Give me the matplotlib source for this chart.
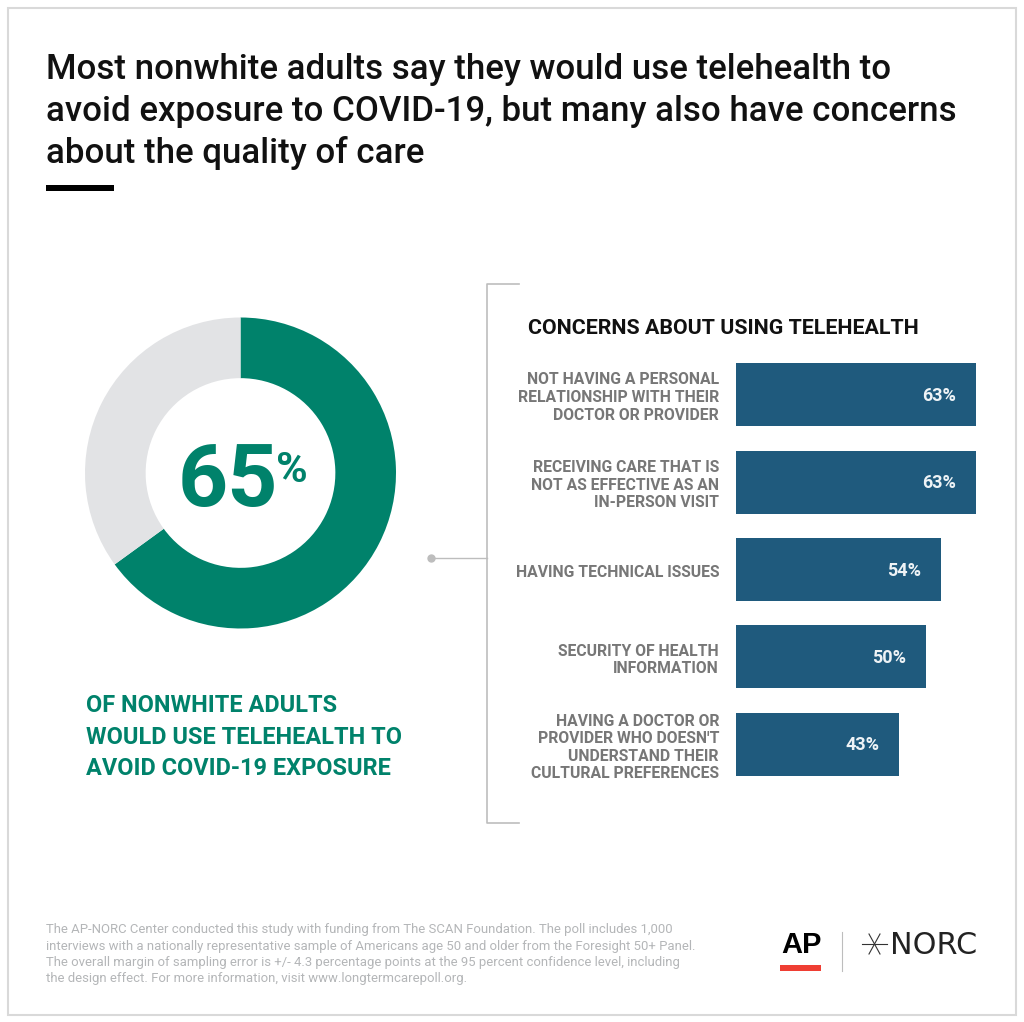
import matplotlib
matplotlib.use("Agg")
import matplotlib.pyplot as plt
from matplotlib.patches import Rectangle

W, H = 1024, 1022
FONT = ["Roboto", "DejaVu Sans"]
plt.rcParams['font.family'] = FONT

title_lines = ["Most nonwhite adults say they would use telehealth to",
               "avoid exposure to COVID-19, but many also have concerns",
               "about the quality of care"]
donut_values = [65, 35]
donut_colors = ["#00826B", "#E2E3E5"]
donut_caption = ["OF NONWHITE ADULTS", "WOULD USE TELEHEALTH TO", "AVOID COVID-19 EXPOSURE"]
bar_title = "CONCERNS ABOUT USING TELEHEALTH"
bar_labels = ["NOT HAVING A PERSONAL\nRELATIONSHIP WITH THEIR\nDOCTOR OR PROVIDER",
              "RECEIVING CARE THAT IS\nNOT AS EFFECTIVE AS AN\nIN-PERSON VISIT",
              "HAVING TECHNICAL ISSUES",
              "SECURITY OF HEALTH\nINFORMATION",
              "HAVING A DOCTOR OR\nPROVIDER WHO DOESN'T\nUNDERSTAND THEIR\nCULTURAL PREFERENCES"]
bar_values = [63, 63, 54, 50, 43]
footnote = ["The AP-NORC Center conducted this study with funding from The SCAN Foundation. The poll includes 1,000",
            "interviews with a nationally representative sample of Americans age 50 and older from the Foresight 50+ Panel.",
            "The overall margin of sampling error is +/- 4.3 percentage points at the 95 percent confidence level, including",
            "the design effect. For more information, visit www.longtermcarepoll.org."]

fig = plt.figure(figsize=(W/100, H/100), dpi=100, facecolor="white")
bg = fig.add_axes([0, 0, 1, 1])
bg.set_xlim(0, W); bg.set_ylim(H, 0); bg.axis("off")

# frame
bg.add_patch(Rectangle((8, 8), 1008, 1007, fill=False, ec="#D9D9D9", lw=1.5))

# title
for i, t in enumerate(title_lines):
    bg.text(46, 70 + i*41.5, t, fontsize=25.12, color="#111111", va="center", ha="left", fontweight="medium")
bg.add_patch(Rectangle((46, 185), 68, 6, color="black", lw=0))

# donut
ax = fig.add_axes([85/W, 1-628.5/H, 311/W, 311/H])
ax.pie(donut_values, colors=donut_colors, startangle=90, counterclock=False,
       radius=1.0, wedgeprops=dict(width=0.39))
ax.set_xlim(-1, 1); ax.set_ylim(-1, 1)
bg.text(227.5, 482, "65", fontsize=63, fontweight="bold", color="#00826B", ha="center", va="center")
bg.text(292, 470, "%", fontsize=31, fontweight="bold", color="#00826B", ha="center", va="center")
for i, t in enumerate(donut_caption):
    bg.text(86, 706 + i*31.3, t, fontsize=16.88, fontweight="bold", color="#00826B", va="center", ha="left")

# connector and bracket
bg.plot([431, 487], [558, 558], color="#BDBDBD", lw=1)
bg.plot([431], [558], "o", color="#BDBDBD", ms=5)
bg.plot([519, 487, 487, 519], [284, 284, 823, 823], color="#BDBDBD", lw=1.2)

bg.text(528, 329, bar_title, fontsize=15.4, fontweight="bold", color="#111111", va="center", ha="left")

# bars
bax = fig.add_axes([736/W, 1-800/H, 239.5/W, 450/H])
ypos = [394.5, 482, 569.5, 657, 744.5]
bax.barh(ypos, bar_values, height=63, color="#1F5A7D")
bax.set_xlim(0, 63); bax.set_ylim(800, 350); bax.axis("off")
for y, v, l in zip(ypos, bar_values, bar_labels):
    bax.text(v - 5.2, y + 1, f"{v}%", color="#EEF3F6", fontsize=13, fontweight="bold", ha="right", va="center")
    bg.text(719, y + 3, l, color="#777777", fontsize=11.3, fontweight="bold", ha="right", va="center",
            linespacing=1.22, multialignment="right")

# footnote
for i, t in enumerate(footnote):
    bg.text(46, 930 + i*16.3, t, fontsize=9.45, color="#B4B6B8", va="center", ha="left")

# logos as text
bg.text(801, 945, "AP", fontsize=21, fontweight="bold", color="black", ha="center", va="center", family="Liberation Sans")
bg.add_patch(Rectangle((780, 965), 41, 6, color="#EF3E33", lw=0))
bg.plot([842, 842], [932, 971], color="#BDBDBD", lw=0.8)
bg.plot([862, 887], [944, 944], color="#333333", lw=0.8)
bg.plot([869, 880], [934, 954], color="#333333", lw=0.8)
bg.plot([880, 869], [934, 954], color="#333333", lw=0.8)
bg.text(890, 946, "NORC", fontsize=21.8, color="#222222", ha="left", va="center", family="DejaVu Sans")

fig.savefig("out.png", dpi=100, facecolor="white")
